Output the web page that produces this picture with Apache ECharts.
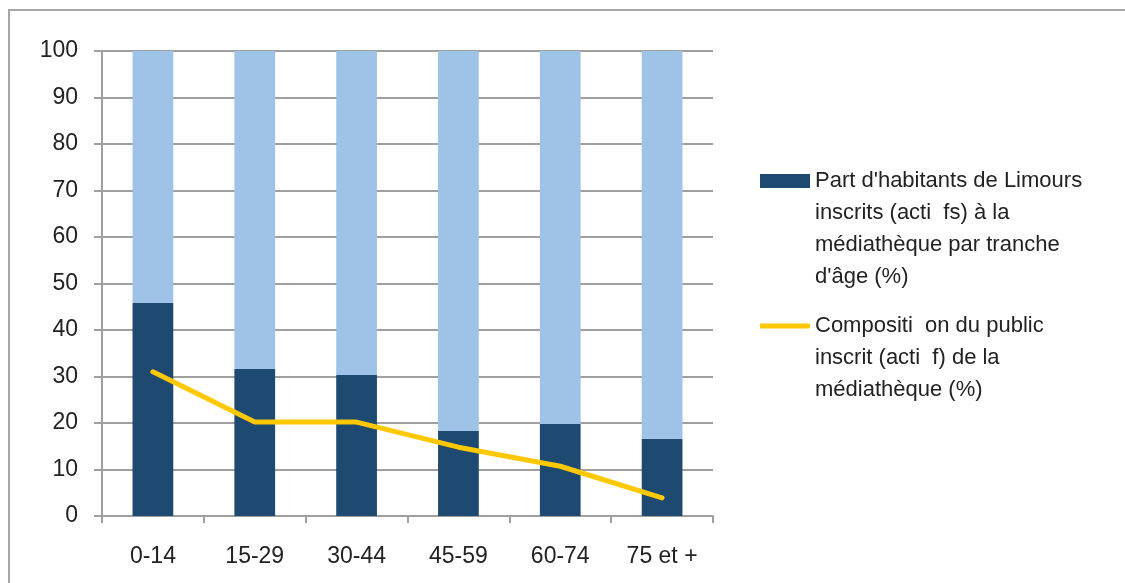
<!DOCTYPE html>
<html>
<head>
<meta charset="utf-8">
<script src="https://cdn.jsdelivr.net/npm/echarts@6/dist/echarts.min.js"></script>
<style>
html,body{margin:0;padding:0;background:#fff;}
#frame{position:absolute;left:8px;top:9px;width:1140px;height:600px;border:2px solid #a6a6a6;box-sizing:border-box;}
#chart{position:absolute;left:0;top:0;width:1125px;height:583px;}
</style>
</head>
<body>
<div id="frame"></div>
<div id="chart"></div>
<script>
const categories = ['0-14', '15-29', '30-44', '45-59', '60-74', '75 et +'];
const inscritsShare = [45.8, 31.6, 30.3, 18.3, 19.8, 16.6];
const publicComposition = [31.0, 20.2, 20.2, 14.8, 10.7, 3.9];
const totalShare = [100, 100, 100, 100, 100, 100];
const yTicks = [0, 100, 10];

const barName = "Part d'habitants de Limours inscrits (actifs) à la médiathèque par tranche d'âge (%)";
const lineName = "Composition du public inscrit (actif) de la médiathèque (%)";
const barLegendLines = ["Part d'habitants de Limours", "inscrits (acti  fs) à la", "médiathèque par tranche", "d'âge (%)"];
const lineLegendLines = ["Compositi  on du public", "inscrit (acti  f) de la", "médiathèque (%)"];

const restShare = totalShare.map((t, i) => +(t - inscritsShare[i]).toFixed(1));

const FONT = 'Liberation Sans';
const LH = 32;
const chart = echarts.init(document.getElementById('chart'));
function legendCfg(name, lines, iconY, icon, itemH) {
  const n = lines.length;
  const blockH = (2 * n - 1) * LH;
  const text = new Array(n - 1).fill('').concat(lines).join('\n');
  return {
    data: [{ name: name, icon: icon }],
    left: 755,
    top: iconY - blockH / 2,
    orient: 'vertical',
    itemWidth: 50,
    itemHeight: itemH,
    formatter: () => text,
    textStyle: { fontFamily: FONT, fontSize: 22, color: '#222', lineHeight: LH },
    selectedMode: false
  };
}
chart.setOption({
  animation: false,
  textStyle: { fontFamily: FONT },
  grid: { left: 102, right: 412, top: 51, bottom: 67 },
  legend: [
    legendCfg(barName, barLegendLines, 176, 'rect', 14),
    legendCfg(lineName, lineLegendLines, 321, 'roundRect', 5)
  ],
  xAxis: {
    type: 'category',
    data: categories,
    axisLine: { lineStyle: { color: '#a0a0a0', width: 2 } },
    axisTick: { show: true, length: 7, lineStyle: { color: '#a0a0a0', width: 2 } },
    axisLabel: { fontFamily: FONT, fontSize: 23, color: '#222', margin: 29 }
  },
  yAxis: {
    type: 'value',
    min: yTicks[0], max: yTicks[1], interval: yTicks[2],
    axisLine: { show: true, lineStyle: { color: '#a0a0a0', width: 2 } },
    axisTick: { show: true, length: 8, lineStyle: { color: '#a0a0a0', width: 2 } },
    splitLine: { lineStyle: { color: '#a0a0a0', width: 2 } },
    axisLabel: { fontFamily: FONT, fontSize: 23, color: '#222', margin: 24 }
  },
  series: [
    {
      name: barName, type: 'bar', stack: 'total', data: inscritsShare, barWidth: '40%',
      itemStyle: { color: '#1e4971' }
    },
    {
      name: 'reste', type: 'bar', stack: 'total', data: restShare, barWidth: '40%',
      itemStyle: { color: '#9fc3e7' }
    },
    {
      name: lineName, type: 'line', data: publicComposition, symbol: 'none',
      lineStyle: { color: '#ffc800', width: 5, cap: 'round', join: 'round' },
      itemStyle: { color: '#ffc800' }
    }
  ]
});
</script>
</body>
</html>
